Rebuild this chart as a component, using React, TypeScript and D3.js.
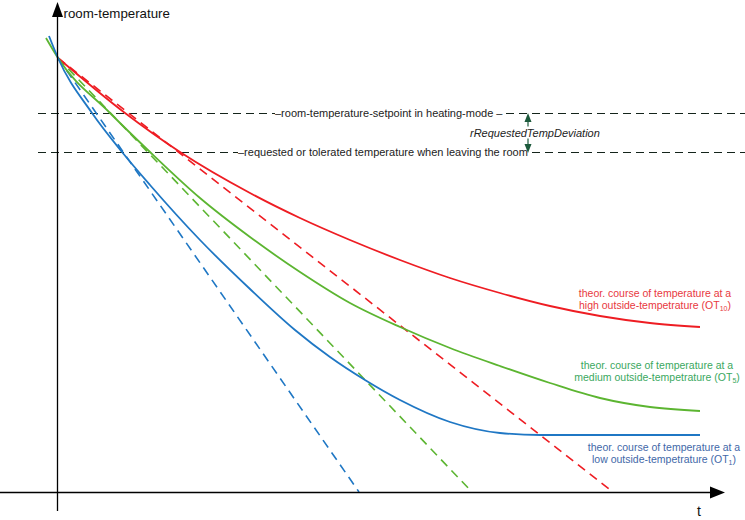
import { useEffect, useRef } from 'react';
import * as d3 from 'd3';

const width = 745;
const height = 520;

// [time, room temperature]
const highOutsideCurve: [number, number][] = [
    [0, 108.5], [13.4, 94.75], [24.4, 85], [38.4, 74.75], [48.4, 68.5], [58.4, 63],
    [68.4, 58], [78.4, 53.5], [88.4, 49.75], [98.4, 46.5], [108.4, 44], [118.4, 42.25],
    [128.4, 41.25],
];
const mediumOutsideCurve: [number, number][] = [
    [-2.4, 113.5], [0, 108.5], [10.4, 94.75], [18.4, 85], [28.4, 73.5], [38.4, 63.75],
    [48.4, 55], [58.4, 47.25], [68.4, 41.25], [78.4, 36], [88.4, 31.5], [98.4, 27.25],
    [108.4, 23.5], [118.4, 21.25], [128.4, 20.25],
];
const lowOutsideCurve: [number, number][] = [
    [-1.8, 114], [0, 108.5], [6.8, 94.75], [12.8, 85], [18.4, 76.75], [28.4, 63],
    [38.4, 50.75], [47.4, 40.5], [54.4, 33.75], [61.4, 28], [68.4, 23], [78.4, 17.5],
    [88.4, 14.75], [96.4, 14.25], [128.4, 14.25],
];

// tangents at t = 0 and where they reach the time axis
const tangentStart: [number, number] = [0, 108.5];
const tangentIntercepts = [111, 82.8, 60.2];

const setpointLevel = 94.75;
const toleratedLevel = 85;
const setpointText = '–room-temperature-setpoint in heating-mode –';
const toleratedText = '–requested or tolerated temperature when leaving the room';
const deviationText = 'rRequestedTempDeviation';

const labelLine1 = 'theor. course of temperature at a';
const labelLine2 = ['high outside-tempetrature (OT', 'medium outside-tempetrature (OT', 'low outside-tempetrature (OT'];
const labelSubs = ['10', '5', '1'];

const curves = [highOutsideCurve, mediumOutsideCurve, lowOutsideCurve];
const lineColors = ['#ee1d23', '#5cb531', '#1f77c4'];
const textColors = ['#e8383e', '#3aa860', '#4268a8'];
// label anchors (centre of text, first baseline) in data units
const labelAnchors: [number, number][] = [[119.4, 48.75], [119.8, 30.75], [121.2, 10.25]];

const App = () => {
    const svgRef = useRef<SVGSVGElement>(null);

    useEffect(() => {
        const svg = d3.select(svgRef.current);
        svg.selectAll('*').remove();

        const x = d3.scaleLinear().domain([0, 134]).range([58, 728]);
        const y = d3.scaleLinear().domain([0, 120]).range([492, 12]);
        const line = d3
            .line<[number, number]>()
            .x(d => x(d[0]))
            .y(d => y(d[1]))
            .curve(d3.curveMonotoneX);

        const refColor = '#14241b';
        const arrowColor = '#1d5a3c';

        // reference levels (half pixel offset keeps the 1px dashes crisp)
        [setpointLevel, toleratedLevel].forEach(level => {
            svg.append('line')
                .attr('x1', x(-4))
                .attr('x2', width)
                .attr('y1', y(level) + 0.5)
                .attr('y2', y(level) + 0.5)
                .attr('stroke', refColor)
                .attr('stroke-width', 1)
                .attr('stroke-dasharray', '8 5');
        });

        // tangents
        tangentIntercepts.forEach((t0, i) => {
            svg.append('line')
                .attr('x1', x(tangentStart[0]))
                .attr('y1', y(tangentStart[1]))
                .attr('x2', x(t0))
                .attr('y2', y(0))
                .attr('stroke', lineColors[i])
                .attr('stroke-width', 1.6)
                .attr('stroke-dasharray', '9 6');
        });

        // curves
        curves.forEach((pts, i) => {
            svg.append('path')
                .attr('d', line(pts))
                .attr('fill', 'none')
                .attr('stroke', lineColors[i])
                .attr('stroke-width', 1.8);
        });

        // axes
        const x0 = x(0) - 0.5;
        const yBase = y(0) + 0.5;
        svg.append('line')
            .attr('x1', x0).attr('x2', x0)
            .attr('y1', y(-4.75)).attr('y2', y(119))
            .attr('stroke', '#000').attr('stroke-width', 1.3);
        svg.append('path')
            .attr('d', `M${x0},${y(122.5)}L${x0 - 5.5},${y(118.75)}L${x0 + 5.5},${y(118.75)}Z`)
            .attr('fill', '#000');
        svg.append('line')
            .attr('x1', x(-11.6)).attr('x2', x(131))
            .attr('y1', yBase).attr('y2', yBase)
            .attr('stroke', '#000').attr('stroke-width', 1.3);
        svg.append('path')
            .attr('d', `M${x(133.4)},${yBase}L${x(130.4)},${yBase - 6}L${x(130.4)},${yBase + 6}Z`)
            .attr('fill', '#000');

        svg.append('text')
            .attr('x', x0 + 6)
            .attr('y', y(118.6))
            .attr('font-size', 13.3)
            .attr('fill', '#111')
            .text('room-temperature');
        svg.append('text')
            .attr('x', x(128.2))
            .attr('y', y(-6))
            .attr('text-anchor', 'middle')
            .attr('font-size', 14)
            .attr('fill', '#111')
            .text('t');

        // texts with white background sitting on the reference lines
        const boxedText = (tx: number, ty: number, str: string, italic = false) => {
            const g = svg.append('g');
            const rect = g.append('rect').attr('fill', '#fff');
            const text = g.append('text')
                .attr('x', tx)
                .attr('y', ty)
                .attr('font-size', 11)
                .attr('fill', '#222')
                .style('font-style', italic ? 'italic' : 'normal')
                .text(str);
            const b = (text.node() as SVGTextElement).getBBox();
            rect.attr('x', b.x).attr('y', b.y).attr('width', b.width).attr('height', b.height);
        };
        boxedText(275, y(setpointLevel) + 4, setpointText);
        boxedText(238, y(toleratedLevel) + 4, toleratedText);

        // deviation double arrow
        const ax = 528;
        const yTop = y(setpointLevel);
        const yBot = y(toleratedLevel);
        svg.append('line')
            .attr('x1', ax).attr('x2', ax)
            .attr('y1', yTop + 4).attr('y2', yBot - 4)
            .attr('stroke', arrowColor).attr('stroke-width', 1.2);
        svg.append('path')
            .attr('d', `M${ax},${yTop}L${ax - 3.5},${yTop + 9}L${ax + 3.5},${yTop + 9}Z`)
            .attr('fill', arrowColor);
        svg.append('path')
            .attr('d', `M${ax},${yBot + 1}L${ax - 3.5},${yBot - 8}L${ax + 3.5},${yBot - 8}Z`)
            .attr('fill', arrowColor);
        boxedText(470, (yTop + yBot) / 2 + 4, deviationText, true);

        // curve labels
        labelAnchors.forEach((a, i) => {
            const g = svg.append('g')
                .attr('fill', textColors[i])
                .attr('font-size', 10.5)
                .attr('text-anchor', 'middle');
            g.append('text').attr('x', x(a[0])).attr('y', y(a[1])).text(labelLine1);
            const t2 = g.append('text').attr('x', x(a[0])).attr('y', y(a[1]) + 12);
            t2.append('tspan').text(labelLine2[i]);
            t2.append('tspan').attr('font-size', 7).attr('dy', 2).text(labelSubs[i]);
            t2.append('tspan').attr('dy', -2).text(')');
        });
    }, []);

    return (
        <svg
            ref={svgRef}
            width={width}
            height={height}
            style={{
                position: 'absolute',
                left: 0,
                top: 0,
                background: '#fff',
                fontFamily: '"Liberation Sans", Arial, sans-serif',
            }}
        />
    );
};

export default App;
